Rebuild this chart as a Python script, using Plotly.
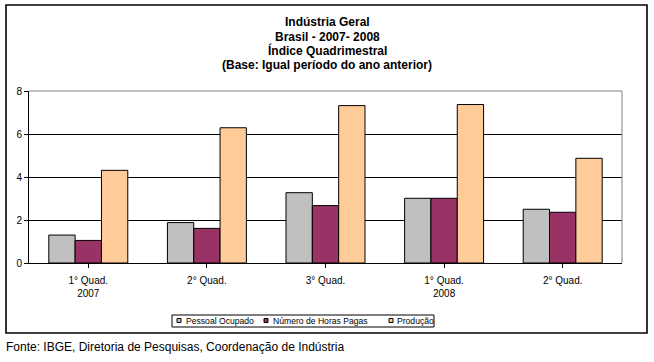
import plotly.graph_objects as go

categories = ["1° Quad.<br>2007", "2° Quad.", "3° Quad.", "1° Quad.<br>2008", "2° Quad."]
series_names = ["Pessoal Ocupado", "Número de Horas Pagas", "Produção"]
pessoal = [1.30, 1.88, 3.27, 3.01, 2.50]
horas = [1.05, 1.61, 2.67, 3.01, 2.36]
producao = [4.31, 6.29, 7.32, 7.37, 4.87]
title_lines = ["Indústria Geral", "Brasil - 2007- 2008", "Índice Quadrimestral",
               "(Base: Igual período do ano anterior)"]
footer = "Fonte: IBGE, Diretoria de Pesquisas, Coordenação de Indústria"

colors = ["#C0C0C0", "#993366", "#FFCC99"]
FONT = "Liberation Sans, Arial, sans-serif"

W_, H_ = 654, 362
L, R, T, B = 29, 622, 91, 263
PW, PH = R - L, B - T


def px(x):
    return (x - L) / PW


def py(y):
    return (B - y) / PH


fig = go.Figure()
x_idx = list(range(len(categories)))
for name, vals, c in zip(series_names, [pessoal, horas, producao], colors):
    fig.add_trace(go.Bar(x=x_idx, y=vals, name=name, marker=dict(color=c, line=dict(color="black", width=1)),
                         showlegend=False))

shapes = []
# outer border
shapes.append(dict(type="rect", xref="paper", yref="paper", x0=px(6), x1=px(647), y0=py(5), y1=py(333),
                   line=dict(color="black", width=1.6), layer="below"))
# top and right plot border (gray)
shapes.append(dict(type="line", xref="paper", yref="paper", x0=0, x1=1, y0=1, y1=1,
                   line=dict(color="#808080", width=1)))
shapes.append(dict(type="line", xref="paper", yref="paper", x0=1, x1=1, y0=0, y1=1,
                   line=dict(color="#808080", width=1)))

annotations = []
# title lines
for line, yc in zip(title_lines, [21.7, 36.5, 50.8, 65.2]):
    annotations.append(dict(text="<b>" + line + "</b>", xref="paper", yref="paper", x=px(327), y=py(yc),
                            xanchor="center", yanchor="middle", showarrow=False,
                            font=dict(size=12, family=FONT, color="black")))
# legend (manual, compact like the original)
shapes.append(dict(type="rect", xref="paper", yref="paper", x0=px(172), x1=px(434), y0=py(315), y1=py(327),
                   line=dict(color="black", width=1)))
sq_x = [177, 264, 389]
tx_x = [184, 270.5, 395]
for name, c, sx, tx in zip(series_names, colors, sq_x, tx_x):
    shapes.append(dict(type="rect", xref="paper", yref="paper", x0=px(sx), x1=px(sx + 4), y0=py(318.5), y1=py(322.5),
                       fillcolor=c, line=dict(color="black", width=1)))
    annotations.append(dict(text=name, xref="paper", yref="paper", x=px(tx), y=py(321), xanchor="left",
                            yanchor="middle", showarrow=False, font=dict(size=8.6, family=FONT, color="black")))

annotations.append(dict(text=footer, xref="paper", yref="paper", x=px(4), y=py(347), xanchor="left",
                        yanchor="middle", showarrow=False, font=dict(size=12, family=FONT, color="black")))

fig.update_layout(
    width=W_, height=H_,
    margin=dict(l=L, r=W_ - R, t=T, b=H_ - B, pad=0),
    paper_bgcolor="white", plot_bgcolor="white",
    barmode="group", bargap=0.334, bargroupgap=0,
    font=dict(family=FONT, size=10, color="black"),
    shapes=shapes, annotations=annotations,
    xaxis=dict(tickmode="array", tickvals=x_idx, ticktext=categories, range=[-0.5, 4.5],
               showline=True, linecolor="black", linewidth=1, ticks="outside", tickson="boundaries",
               ticklen=4, tickcolor="black", showgrid=False, zeroline=False, ticklabelstandoff=4,
               tickfont=dict(size=10, family=FONT, color="black")),
    yaxis=dict(range=[0, 8], dtick=2, showline=True, linecolor="black", linewidth=1,
               ticks="outside", ticklen=4, tickcolor="black", showgrid=True, gridcolor="black",
               gridwidth=1, zeroline=False, tickfont=dict(size=10, family=FONT, color="black")),
)

fig.write_html("out.html", config={"displayModeBar": False},
               post_script="document.body.style.margin='0';document.body.style.overflow='hidden';")
